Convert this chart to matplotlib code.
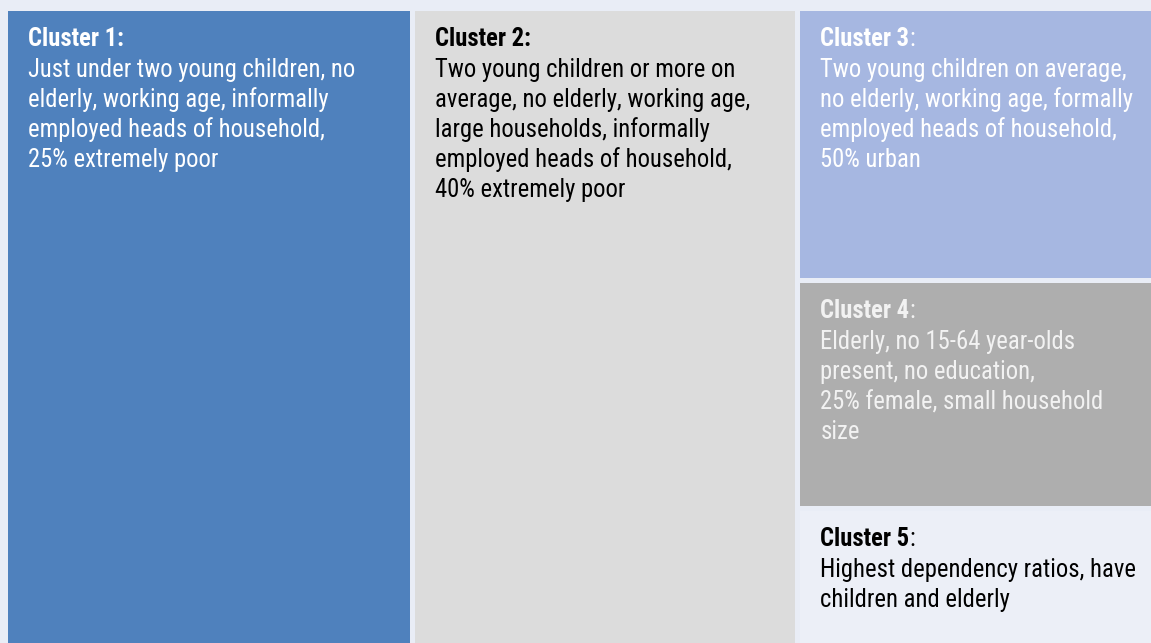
import matplotlib
matplotlib.use("Agg")
import matplotlib.pyplot as plt
from matplotlib.patches import Rectangle

# ---------------- data ----------------
clusters = ["Cluster 1", "Cluster 2", "Cluster 3", "Cluster 4", "Cluster 5"]
shares = [35.4, 33.7, 13.2, 11.1, 6.6]          # share of households (area)
colon_bold = [True, True, False, False, False]
descriptions = [
    ["Just under two young children, no",
     "elderly, working age, informally",
     "employed heads of household,",
     "25% extremely poor"],
    ["Two young children or more on",
     "average, no elderly, working age,",
     "large households, informally",
     "employed heads of household,",
     "40% extremely poor"],
    ["Two young children on average,",
     "no elderly, working age, formally",
     "employed heads of household,",
     "50% urban"],
    ["Elderly, no 15-64 year-olds",
     "present, no education,",
     "25% female, small household",
     "size"],
    ["Highest dependency ratios, have",
     "children and elderly"],
]

# ---------------- style ----------------
fills = ["#4F81BD", "#DCDCDC", "#A6B7E1", "#AEAEAE", "#ECEFF7"]
text_colors = ["#FFFFFF", "#000000", "#FFFFFF", "#F2F2F2", "#000000"]
bg = "#E9EDF6"

plt.rcParams["font.family"] = ["Roboto Condensed", "DejaVu Sans"]

W, H = 1151, 643
fig = plt.figure(figsize=(W / 100, H / 100), dpi=100, facecolor=bg)
ax = fig.add_axes([0, 0, 1, 1])
ax.set_xlim(0, W)
ax.set_ylim(H, 0)
ax.axis("off")
ax.set_facecolor(bg)

# treemap region (pixels)
X0, X1, Y0, Y1 = 8, W, 11, H
total = sum(shares)
tw = X1 - X0
rects = []
x = X0
for v in shares[:2]:
    w = tw * v / total
    rects.append((x, Y0, w, Y1 - Y0))
    x += w
col3_w = X1 - x
rest = sum(shares[2:])
y = Y0
for v in shares[2:]:
    h = (Y1 - Y0) * v / rest
    rects.append((x, y, col3_w, h))
    y += h

g = 2.5
fs = 17.7
for i, (rx, ry, rw, rh) in enumerate(rects):
    left = rx + (g if rx > X0 + 1 else 0)
    right = rx + rw - (g if rx + rw < X1 - 1 else 0)
    top = ry + (g if ry > Y0 + 1 else 0)
    bottom = ry + rh - (g if ry + rh < Y1 - 1 else 0)
    ax.add_patch(Rectangle((left, top), right - left, bottom - top,
                           facecolor=fills[i], edgecolor="none"))
    tx = left + 20
    tb = top + 35
    c = text_colors[i]
    if colon_bold[i]:
        ax.text(tx, tb, clusters[i] + ":", color=c, fontsize=fs,
                fontweight="bold", va="baseline", ha="left")
    else:
        t = ax.text(tx, tb, clusters[i], color=c, fontsize=fs,
                    fontweight="bold", va="baseline", ha="left")
        ax.annotate(":", xy=(1, 0), xycoords=t, color=c, fontsize=fs,
                    va="bottom", ha="left")
    for j, line in enumerate(descriptions[i]):
        ax.text(tx, tb + 31 + 30 * j, line, color=c, fontsize=fs,
                va="baseline", ha="left")

fig.savefig("out.png", dpi=100, facecolor=bg)
